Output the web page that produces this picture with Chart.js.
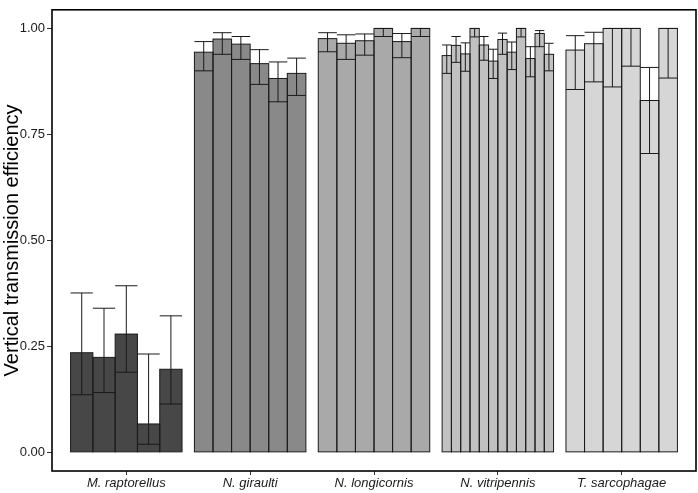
<!DOCTYPE html>
<html>
<head>
<meta charset="utf-8">
<script src="https://cdn.jsdelivr.net/npm/chart.js@4.4.0/dist/chart.umd.min.js"></script>
<style>
  body { margin: 0; background: #fff; }
  canvas { display: block; }
</style>
</head>
<body>
<canvas id="chart" width="698" height="493"></canvas>
<script>
const species = ["M. raptorellus", "N. giraulti", "N. longicornis", "N. vitripennis", "T. sarcophagae"];

// one inner list per species, one value per replicate line
const meanEff = [
  [0.235, 0.224, 0.279, 0.067, 0.196],
  [0.944, 0.975, 0.963, 0.917, 0.882, 0.894],
  [0.976, 0.965, 0.971, 1.0, 0.969, 1.0],
  [0.936, 0.960, 0.940, 1.0, 0.961, 0.923, 0.974, 0.944, 1.0, 0.929, 0.988, 0.939],
  [0.949, 0.964, 1.0, 1.0, 0.830, 1.0],
];
const lowerCI = [
  [0.136, 0.141, 0.189, 0.019, 0.114],
  [0.900, 0.939, 0.927, 0.868, 0.827, 0.842],
  [0.945, 0.927, 0.937, 0.981, 0.931, 0.981],
  [0.894, 0.920, 0.899, 0.980, 0.925, 0.882, 0.939, 0.903, 0.980, 0.886, 0.957, 0.900],
  [0.856, 0.874, 0.862, 0.911, 0.705, 0.883],
];
const upperCI = [
  [0.376, 0.340, 0.393, 0.232, 0.322],
  [0.969, 0.990, 0.981, 0.950, 0.921, 0.930],
  [0.990, 0.985, 0.987, 1.0, 0.988, 1.0],
  [0.961, 0.981, 0.966, 1.0, 0.981, 0.951, 0.989, 0.968, 1.0, 0.957, 0.995, 0.965],
  [0.983, 0.991, 1.0, 1.0, 0.908, 1.0],
];
const yTicks = [0, 0.25, 0.5, 0.75, 1];
const fills = ["#474747", "#898989", "#a9a9a9", "#c1c1c1", "#d6d6d6"];

const font = "'Liberation Sans', Arial, Helvetica, sans-serif";

const maxReps = Math.max(...meanEff.map(g => g.length));
const datasets = [];
for (let r = 0; r < maxReps; r++) {
  datasets.push({
    data: meanEff.map(g => (r < g.length ? g[r] : null)),
    lower: lowerCI.map(g => (r < g.length ? g[r] : null)),
    upper: upperCI.map(g => (r < g.length ? g[r] : null)),
    backgroundColor: fills,
    borderWidth: 0,
    categoryPercentage: 0.9,
    barPercentage: 1,
    skipNull: true,
  });
}

// outlines centred on the bar edges (shared edges give one line), then whiskers
const barOutlines = {
  id: "barOutlines",
  afterDatasetsDraw(chart) {
    const ctx = chart.ctx;
    const y = chart.scales.y;
    ctx.save();
    ctx.strokeStyle = "#1a1a1a";
    ctx.lineWidth = 1;
    chart.data.datasets.forEach((ds, i) => {
      chart.getDatasetMeta(i).data.forEach((bar, j) => {
        if (ds.data[j] == null) return;
        const half = bar.width / 2;
        ctx.strokeRect(bar.x - half, bar.y, bar.width, bar.base - bar.y);
      });
    });
    chart.data.datasets.forEach((ds, i) => {
      chart.getDatasetMeta(i).data.forEach((bar, j) => {
        if (ds.data[j] == null) return;
        const lo = y.getPixelForValue(ds.lower[j]);
        const hi = y.getPixelForValue(ds.upper[j]);
        const half = bar.width / 2;
        ctx.beginPath();
        ctx.moveTo(bar.x, lo);
        ctx.lineTo(bar.x, hi);
        ctx.moveTo(bar.x - half, lo);
        ctx.lineTo(bar.x + half, lo);
        ctx.moveTo(bar.x - half, hi);
        ctx.lineTo(bar.x + half, hi);
        ctx.stroke();
      });
    });
    ctx.restore();
  },
};

const panelBorder = {
  id: "panelBorder",
  afterDraw(chart) {
    const { ctx, chartArea: a } = chart;
    ctx.save();
    ctx.strokeStyle = "#000";
    ctx.lineWidth = 1.6;
    ctx.strokeRect(a.left, a.top, a.right - a.left, a.bottom - a.top);
    ctx.restore();
  },
};

new Chart(document.getElementById("chart"), {
  type: "bar",
  data: { labels: species, datasets },
  plugins: [barOutlines, panelBorder],
  options: {
    responsive: false,
    animation: false,
    devicePixelRatio: 1,
    layout: { padding: { top: 2, right: 2, left: 0, bottom: 0 } },
    plugins: {
      legend: { display: false },
      tooltip: { enabled: false },
    },
    scales: {
      x: {
        type: "category",
        offset: true,
        // ggplot-style 0.6 expansion of the discrete axis
        afterBuildTicks(scale) {
          scale._startValue = -0.6;
          scale._valueRange = species.length + 0.2;
        },
        afterFit(scale) {
          scale.height = 22;
        },
        grid: { offset: false, drawOnChartArea: false, drawTicks: true, tickLength: 4, tickColor: "#333" },
        border: { display: false },
        ticks: {
          color: "#1a1a1a",
          font: { family: font, size: 13, style: "italic" },
          padding: 1,
          maxRotation: 0,
          autoSkip: false,
        },
      },
      y: {
        min: -0.044,
        max: 1.044,
        afterBuildTicks(scale) {
          scale.ticks = yTicks.map(v => ({ value: v }));
        },
        afterFit(scale) {
          scale.width = 52;
        },
        grid: { drawOnChartArea: false, drawTicks: true, tickLength: 5, tickColor: "#333" },
        border: { display: false },
        ticks: {
          color: "#1a1a1a",
          font: { family: font, size: 13 },
          padding: 2,
          callback: v => v.toFixed(2),
        },
        title: {
          display: true,
          text: "Vertical transmission efficiency",
          color: "#000",
          font: { family: font, size: 20 },
          padding: { top: 0, bottom: 0 },
        },
      },
    },
  },
});
</script>
</body>
</html>
